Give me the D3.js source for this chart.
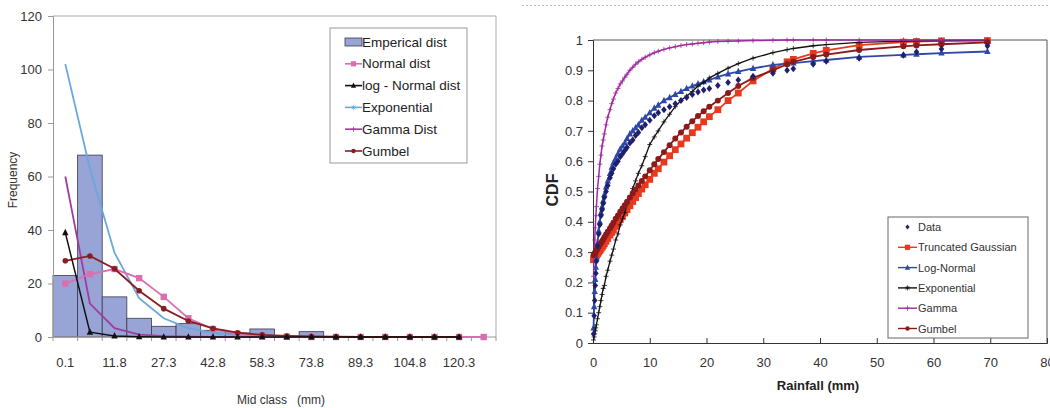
<!DOCTYPE html>
<html><head><meta charset="utf-8">
<script src="https://cdn.jsdelivr.net/npm/d3@7"></script>
<style>
body{margin:0;background:#fff;}
svg{display:block;font-family:"Liberation Sans",Arial,sans-serif;}
</style></head>
<body><svg id="c" width="1050" height="408"></svg>
<script>
// ---------- Left panel data (frequency histogram) ----------
const midClasses = ["0.1","4.0","11.8","19.6","27.3","35.1","42.8","50.6","58.3","66.1","73.8","81.6","89.3","97.1","104.8","112.6","120.3","128.1"];
const empirical   = [23, 68, 15, 7, 4, 5, 2.5, 1.5, 3, 0, 2, 0, 0, 0, 0, 0, 0, 0];
const normalDist  = [20, 23.5, 25.4, 22, 15, 7, 3, 1.1, 0.4, 0.1, 0, 0, 0, 0, 0, 0, 0, 0];
const logNormal   = [39, 1.8, 0.4, 0.1, 0, 0, 0, 0, 0, 0, 0, 0, 0, 0, 0, 0, 0];
const exponential = [102, 63, 31.5, 14.5, 7, 3.3, 1.5, 0.7, 0.3, 0.1, 0, 0, 0, 0, 0, 0, 0];
const gammaDist   = [60, 12.5, 3.3, 0.9, 0.3, 0.1, 0, 0, 0, 0, 0, 0, 0, 0, 0, 0, 0];
const gumbel      = [28.5, 30.3, 25.5, 17.3, 10.6, 6, 3.2, 1.6, 0.8, 0.4, 0.2, 0.1, 0, 0, 0, 0, 0];
const freqTicks   = [0, 20, 40, 60, 80, 100, 120];

// ---------- Right panel data (CDF) ----------
const rain = [0.1,0.2,0.3,0.4,0.5,0.6,0.8,1.0,1.2,1.4,1.6,1.8,2.0,2.3,2.6,3.0,3.3,3.6,4.0,4.4,4.8,5.2,5.6,6.0,6.5,7.0,7.5,8.0,8.6,9.2,10.0,10.8,11.5,12.5,13.5,14.5,15.5,16.5,17.5,18.5,19.5,20.5,22.0,23.8,25.6,28.2,31.7,34.2,35.3,38.8,41.1,46.9,54.7,57.0,61.4,69.5];
const cdfData = [0.03,0.09,0.14,0.19,0.23,0.27,0.32,0.36,0.39,0.42,0.44,0.46,0.48,0.50,0.52,0.545,0.56,0.575,0.59,0.60,0.615,0.625,0.635,0.645,0.66,0.67,0.685,0.695,0.71,0.72,0.735,0.75,0.76,0.77,0.78,0.79,0.80,0.81,0.82,0.828,0.835,0.84,0.85,0.86,0.868,0.88,0.89,0.90,0.905,0.92,0.93,0.94,0.95,0.96,0.97,0.98];
const cdfTruncGauss = [0.275,0.278,0.28,0.283,0.286,0.289,0.294,0.30,0.305,0.31,0.316,0.322,0.328,0.336,0.345,0.356,0.365,0.374,0.385,0.396,0.407,0.418,0.429,0.44,0.453,0.467,0.48,0.493,0.508,0.522,0.54,0.56,0.575,0.597,0.618,0.638,0.657,0.676,0.694,0.712,0.73,0.747,0.77,0.80,0.825,0.865,0.905,0.928,0.936,0.956,0.966,0.983,0.993,0.995,0.997,0.998];
const cdfLogNormal = [0.05,0.12,0.17,0.21,0.25,0.28,0.33,0.37,0.40,0.43,0.45,0.47,0.49,0.515,0.535,0.56,0.58,0.595,0.61,0.625,0.64,0.65,0.66,0.675,0.69,0.70,0.71,0.72,0.735,0.745,0.76,0.775,0.785,0.80,0.81,0.82,0.83,0.84,0.848,0.855,0.862,0.868,0.878,0.888,0.896,0.906,0.918,0.922,0.924,0.93,0.934,0.944,0.951,0.953,0.957,0.962];
const cdfExponential = [0.01,0.02,0.03,0.04,0.05,0.06,0.08,0.10,0.12,0.14,0.16,0.18,0.19,0.22,0.24,0.27,0.29,0.31,0.34,0.36,0.39,0.41,0.43,0.46,0.48,0.51,0.535,0.56,0.585,0.615,0.655,0.68,0.70,0.73,0.755,0.78,0.80,0.815,0.83,0.848,0.86,0.875,0.89,0.907,0.922,0.94,0.958,0.968,0.972,0.981,0.985,0.992,0.996,0.997,0.998,0.999];
const cdfGamma = [0.22,0.29,0.34,0.38,0.42,0.45,0.51,0.55,0.59,0.62,0.65,0.67,0.69,0.72,0.745,0.77,0.79,0.805,0.825,0.84,0.855,0.865,0.877,0.887,0.90,0.91,0.92,0.928,0.936,0.943,0.951,0.958,0.963,0.969,0.974,0.978,0.982,0.985,0.987,0.989,0.991,0.993,0.995,0.996,0.997,0.998,0.999,1,1,1,1,1,1,1,1,1];
const cdfGumbel = [0.29,0.293,0.296,0.299,0.302,0.305,0.311,0.318,0.324,0.33,0.336,0.342,0.349,0.358,0.367,0.379,0.388,0.397,0.41,0.421,0.433,0.444,0.455,0.466,0.48,0.494,0.507,0.52,0.535,0.55,0.57,0.59,0.607,0.63,0.653,0.675,0.695,0.714,0.732,0.749,0.765,0.78,0.80,0.825,0.848,0.875,0.90,0.92,0.928,0.944,0.952,0.967,0.979,0.982,0.986,0.992];
const cdfTicks = [0,0.1,0.2,0.3,0.4,0.5,0.6,0.7,0.8,0.9,1];
const rainTicks = [0,10,20,30,40,50,60,70,80];

const svg = d3.select("#c");

// ================= LEFT PANEL =================
const L = {x0:53, x1:496, y0:337, y1:16};
const xb = d3.scaleBand().domain(d3.range(midClasses.length)).range([L.x0, L.x1]).padding(0);
const yf = d3.scaleLinear().domain([0,120]).range([L.y0, L.y1]);
const gL = svg.append("g");

gL.selectAll("rect.bar").data(empirical).enter().append("rect")
  .attr("x",(d,i)=>xb(i)).attr("width",xb.bandwidth())
  .attr("y",d=>yf(d)).attr("height",d=>yf(0)-yf(d))
  .attr("fill","#98a3d6").attr("stroke","#3a3a4a").attr("stroke-width",0.8);

gL.append("line").attr("x1",L.x0).attr("x2",L.x1).attr("y1",L.y1).attr("y2",L.y1).attr("stroke","#aaa");
gL.append("line").attr("x1",L.x1).attr("x2",L.x1).attr("y1",L.y1).attr("y2",L.y0).attr("stroke","#aaa");

const yAxL = gL.append("g").attr("transform",`translate(${L.x0},0)`)
  .call(d3.axisLeft(yf).tickValues(freqTicks).tickSize(5).tickPadding(6).tickFormat(d3.format("d")));
yAxL.select(".domain").attr("stroke","#999");
yAxL.selectAll(".tick line").attr("stroke","#999");
yAxL.selectAll("text").attr("font-size",13).attr("fill","#333").attr("font-family","Liberation Sans, Arial, sans-serif");

gL.append("line").attr("x1",L.x0).attr("x2",L.x1).attr("y1",L.y0).attr("y2",L.y0).attr("stroke","#999");
gL.selectAll("line.xt").data(d3.range(midClasses.length+1)).enter().append("line")
  .attr("x1",i=>L.x0+i*xb.bandwidth()).attr("x2",i=>L.x0+i*xb.bandwidth())
  .attr("y1",L.y0).attr("y2",L.y0+4).attr("stroke","#999");
gL.selectAll("text.xl").data(midClasses).enter().filter((d,i)=>i%2===0).append("text")
  .attr("x",(d)=>xb(midClasses.indexOf(d))+xb.bandwidth()/2).attr("y",367)
  .attr("text-anchor","middle").attr("font-size",13).attr("fill","#333").text(d=>d);

const cx = i => xb(i)+xb.bandwidth()/2;
function seriesL(vals,color,marker,w,ms){
  const line = d3.line().x((d,i)=>cx(i)).y(d=>yf(d));
  gL.append("path").datum(vals).attr("d",line).attr("fill","none").attr("stroke",color).attr("stroke-width",w||1.8);
  const g = gL.append("g");
  vals.forEach((v,i)=>drawMarker(g,marker,cx(i),yf(v),color,ms));
}
function drawMarker(g,type,x,y,color,s){
  s = s||3;
  if(type==="square") g.append("rect").attr("x",x-s).attr("y",y-s).attr("width",2*s).attr("height",2*s).attr("fill",color);
  else if(type==="circle") g.append("circle").attr("cx",x).attr("cy",y).attr("r",s*0.85).attr("fill",color);
  else if(type==="triangle") g.append("path").attr("d",`M${x},${y-s*1.2}L${x+s},${y+s*0.8}L${x-s},${y+s*0.8}Z`).attr("fill",color);
  else if(type==="diamond") g.append("path").attr("d",`M${x},${y-s}L${x+s*0.8},${y}L${x},${y+s}L${x-s*0.8},${y}Z`).attr("fill",color);
  else if(type==="plus") g.append("path").attr("d",`M${x-s},${y}H${x+s}M${x},${y-s}V${y+s}`).attr("stroke",color).attr("stroke-width",0.8);
  else if(type==="star") g.append("path").attr("d",`M${x-s},${y}H${x+s}M${x},${y-s}V${y+s}M${x-s*0.7},${y-s*0.7}L${x+s*0.7},${y+s*0.7}M${x-s*0.7},${y+s*0.7}L${x+s*0.7},${y-s*0.7}`).attr("stroke",color).attr("stroke-width",0.7);
}
const cNormal="#d96fb1", cLogN="#111", cExp="#6aa8dc", cGamma="#a03c9e", cGumbel="#8b1c22";
seriesL(exponential,cExp,"none",1.8);
seriesL(gammaDist,cGamma,"none",1.8);
seriesL(normalDist,cNormal,"square",1.8,3.2);
seriesL(gumbel,cGumbel,"circle",1.8,3.3);
seriesL(logNormal,cLogN,"triangle",1.5,3.2);

gL.append("text").attr("transform","translate(17,180) rotate(-90)").attr("text-anchor","middle")
  .attr("font-size",12).attr("fill","#333").text("Frequency");
gL.append("text").attr("x",237).attr("y",404).attr("font-size",12).attr("fill","#333").attr("xml:space","preserve").text("Mid class   (mm)");

const lg = gL.append("g");
lg.append("rect").attr("x",330).attr("y",28).attr("width",137).attr("height",135).attr("fill","#fff").attr("stroke","#999");
const legL = [
  {n:"Emperical dist",c:"#98a3d6",m:"bar"},
  {n:"Normal dist",c:cNormal,m:"square"},
  {n:"log - Normal dist",c:cLogN,m:"triangle"},
  {n:"Exponential",c:cExp,m:"star"},
  {n:"Gamma Dist",c:cGamma,m:"plus"},
  {n:"Gumbel",c:cGumbel,m:"circle"}];
legL.forEach((d,i)=>{
  const y = 42 + i*21.8;
  if(d.m==="bar"){
    lg.append("rect").attr("x",345).attr("y",y-4).attr("width",17).attr("height",8).attr("fill",d.c).attr("stroke","#3a3a4a").attr("stroke-width",0.8);
  } else {
    lg.append("line").attr("x1",345).attr("x2",362).attr("y1",y).attr("y2",y).attr("stroke",d.c).attr("stroke-width",1.6);
    drawMarker(lg,d.m,353.5,y,d.c,2.6);
  }
  lg.append("text").attr("x",362).attr("y",y+4.5).attr("font-size",13.5).attr("fill","#222").text(d.n);
});

// ================= RIGHT PANEL =================
const R = {x0:593, x1:1047, y0:343, y1:40};
const xr = d3.scaleLinear().domain([0,80]).range([R.x0,R.x1]);
const yr = d3.scaleLinear().domain([0,1]).range([R.y0,R.y1]);
const gR = svg.append("g");

gR.append("line").attr("x1",522).attr("x2",1050).attr("y1",5.5).attr("y2",5.5).attr("stroke","#bbb").attr("stroke-dasharray","2,2");

gR.append("line").attr("x1",R.x0).attr("x2",R.x1).attr("y1",R.y1).attr("y2",R.y1).attr("stroke","#555");
gR.append("line").attr("x1",R.x1).attr("x2",R.x1).attr("y1",R.y1).attr("y2",R.y0).attr("stroke","#555");

const yAxR = gR.append("g").attr("transform",`translate(${R.x0},0)`)
  .call(d3.axisLeft(yr).tickValues(cdfTicks).tickSize(5).tickPadding(5).tickFormat(d=>d3.format("~g")(d)));
yAxR.select(".domain").attr("stroke","#333");
yAxR.selectAll(".tick line").attr("stroke","#333");
yAxR.selectAll("text").attr("font-size",13).attr("fill","#333").attr("font-family","Liberation Sans, Arial, sans-serif");

const xAxR = gR.append("g").attr("transform",`translate(0,${R.y0})`)
  .call(d3.axisBottom(xr).tickValues(rainTicks).tickSize(-5).tickPadding(15).tickFormat(d3.format("d")));
xAxR.select(".domain").attr("stroke","#333");
xAxR.selectAll(".tick line").attr("stroke","#333");
xAxR.selectAll("text").attr("font-size",13).attr("fill","#333").attr("font-family","Liberation Sans, Arial, sans-serif");

const cData="#1f1f6e", cTG="#e8391f", cLN="#2d48a8", cEx="#111", cGa="#a02aa0", cGu="#8b1a1a";
function seriesR(vals,color,marker,lineW,ms){
  if(lineW>0){
    const line = d3.line().x((d,i)=>xr(rain[i])).y(d=>yr(d));
    gR.append("path").datum(vals).attr("d",line).attr("fill","none").attr("stroke",color).attr("stroke-width",lineW);
  }
  const g = gR.append("g");
  vals.forEach((v,i)=>drawMarker(g,marker,xr(rain[i]),yr(v),color,ms));
}
seriesR(cdfTruncGauss,cTG,"square",1.8,3.4);
seriesR(cdfLogNormal,cLN,"triangle",1.8,3.2);
seriesR(cdfExponential,cEx,"plus",1.3,2.5);
seriesR(cdfGamma,cGa,"plus",1.5,2.5);
seriesR(cdfGumbel,cGu,"circle",1.8,3.5);
seriesR(cdfData,cData,"diamond",0,3.5);

gR.append("text").attr("transform","translate(558,190) rotate(-90)").attr("text-anchor","middle")
  .attr("font-size",16).attr("font-weight","bold").attr("fill","#222").text("CDF");
gR.append("text").attr("x",818).attr("y",390).attr("text-anchor","middle")
  .attr("font-size",13).attr("font-weight","bold").attr("fill","#222").text("Rainfall (mm)");

const rg = gR.append("g");
rg.append("rect").attr("x",888).attr("y",217).attr("width",140).attr("height",121).attr("fill","#fff").attr("stroke","#666");
const legR = [
  {n:"Data",c:cData,m:"diamond",l:false},
  {n:"Truncated Gaussian",c:cTG,m:"square",l:true},
  {n:"Log-Normal",c:cLN,m:"triangle",l:true},
  {n:"Exponential",c:cEx,m:"star",l:true},
  {n:"Gamma",c:cGa,m:"plus",l:true},
  {n:"Gumbel",c:cGu,m:"circle",l:true}];
legR.forEach((d,i)=>{
  const y = 227 + i*20.3;
  if(d.l) rg.append("line").attr("x1",898).attr("x2",917).attr("y1",y).attr("y2",y).attr("stroke",d.c).attr("stroke-width",1.4);
  drawMarker(rg,d.m,907.5,y,d.c,2.6);
  rg.append("text").attr("x",918).attr("y",y+4).attr("font-size",11).attr("fill","#333").text(d.n);
});
</script></body></html>
